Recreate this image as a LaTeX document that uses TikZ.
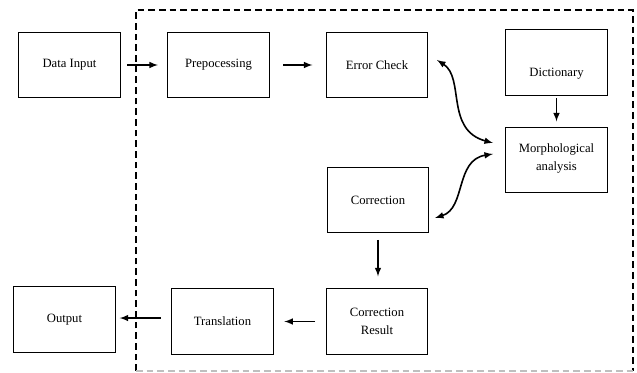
\documentclass[tikz,border=0pt]{standalone}
\usepackage{fontspec}
\setmainfont{Liberation Serif}
\begin{document}
\begin{tikzpicture}[x=0.75pt, y=-0.75pt, >=latex,
    block/.style={draw, line width=0.8pt, minimum width=76pt, minimum height=49pt, align=center, font=\fontsize{9.5}{13.5}\selectfont},
    arr/.style={->, line width=1.2pt}]
    \useasboundingbox (0,0) rectangle (637,373);
    
    % Frame
    \draw[line width=0.8pt, dash pattern=on 5pt off 3pt] (136,371) -- (136,10) -- (633,10) -- (633,371);
    \draw[line width=0.8pt, dash pattern=on 5pt off 3pt, black!25] (136,371) -- (633,371);
    
    % Blocks
    \node[block] (input) at (69.5,65) {Data Input};
    \node[block] (prep) at (218.5,65) {Prepocessing};
    \node[block] (check) at (377,65) {Error Check};
    \node[block, text height=24pt, text depth=2.3pt] (dict) at (556.5,62.5) {Dictionary};
    \node[block, text height=18pt] (morph) at (556.5,160) {Morphological\\analysis};
    \node[block] (corr) at (378,200) {Correction};
    \node[block] (result) at (377,321.5) {Correction\\Result};
    \node[block] (trans) at (222.5,321.5) {Translation};
    \node[block] (out) at (64.5,319.5) {Output};
    
    % Arrows
    \draw[arr] ([xshift=5pt]input.east) -- ([xshift=-7pt]prep.west);
    \draw[arr] ([xshift=10pt]prep.east) -- ([xshift=-10pt]check.west);
    \draw[arr] ([yshift=-2pt]dict.south) -- ([yshift=4pt]morph.north);
    \draw[arr] ([yshift=-5pt]corr.south) -- ([yshift=9pt]corr.south |- result.north);
    \draw[arr] ([xshift=-8pt]result.west) -- ([xshift=8pt]trans.east);
    \draw[arr] ([xshift=-8pt,yshift=2.6pt]trans.west) -- ([xshift=3pt,yshift=1.1pt]out.east);
    
    % Curved links
    \coordinate (c1) at (437,60);
    \coordinate (m1) at (493,143);
    \coordinate (c2) at (435,218);
    \coordinate (m2) at (493,154);
    \draw[<->, line width=1.2pt] (c1) .. controls (465,78) and (445,130) .. (m1);
    \draw[<->, line width=1.2pt] (c2) .. controls (466,208) and (455,160) .. (m2);
\end{tikzpicture}
\end{document}
